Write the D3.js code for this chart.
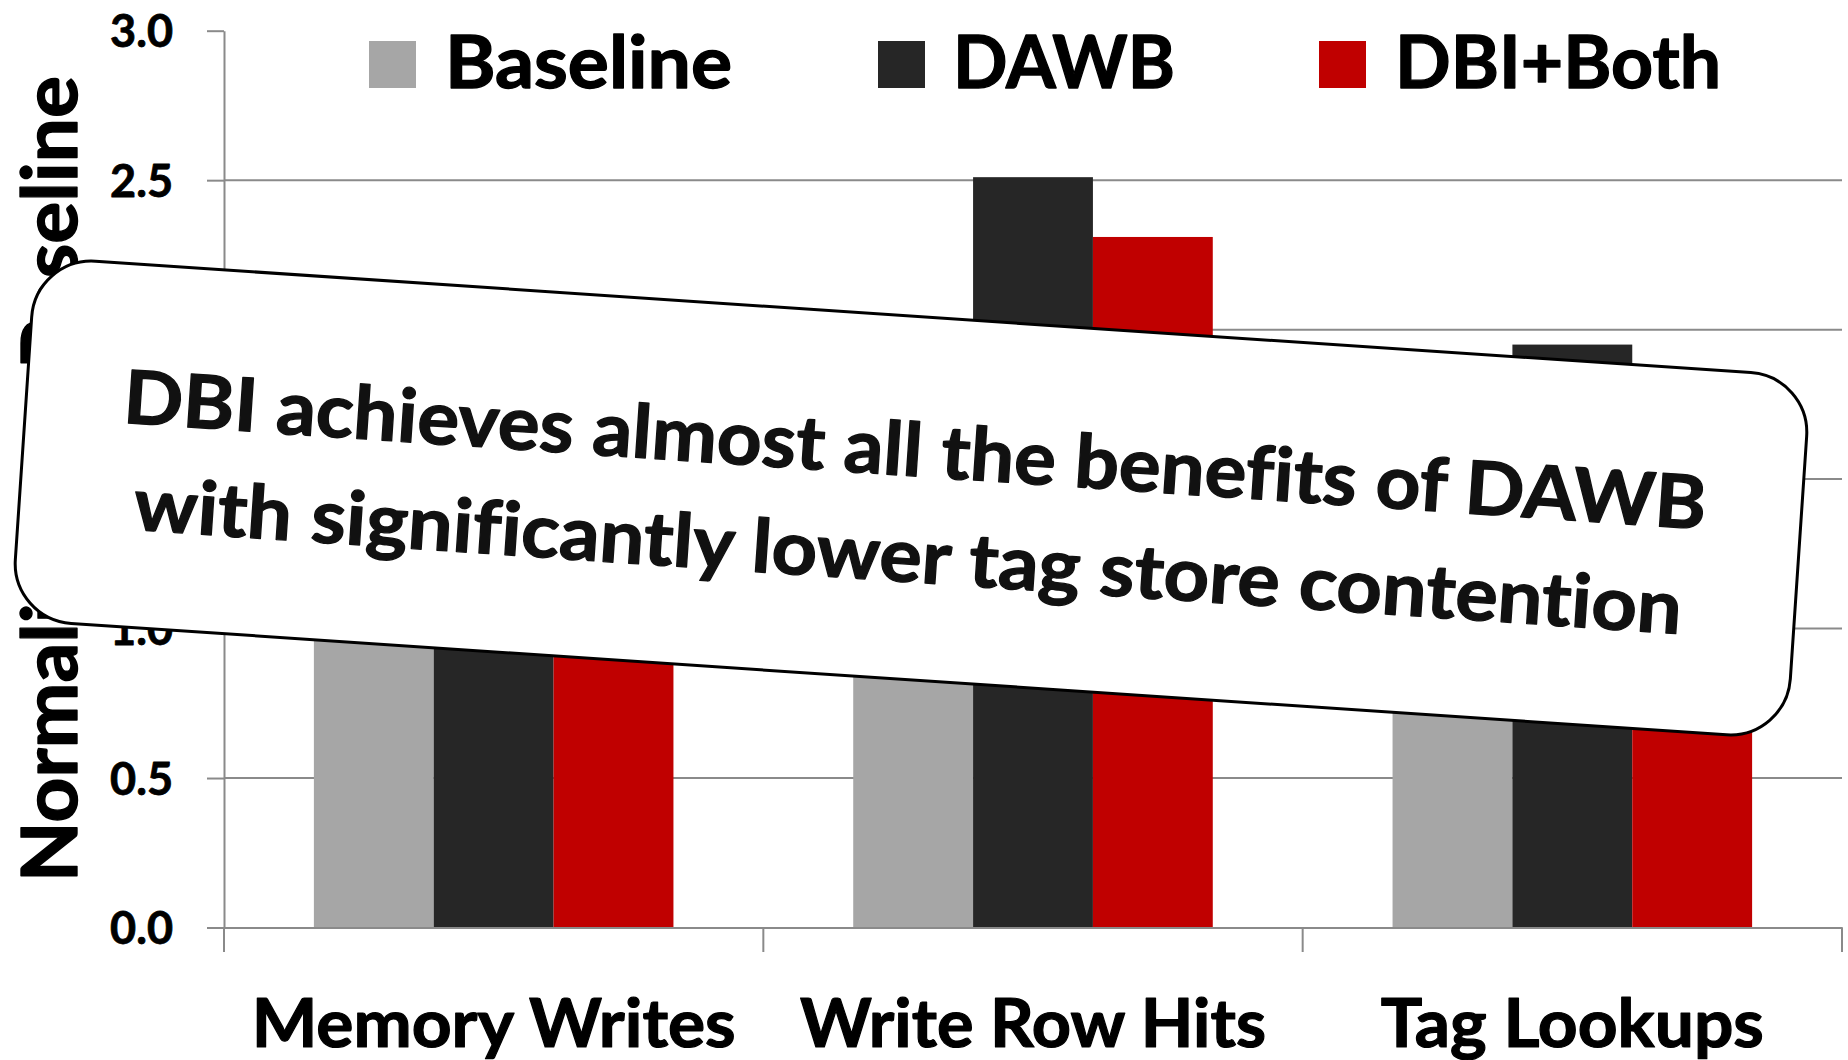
<!DOCTYPE html>
<html>
<head>
<meta charset="utf-8">
<script src="https://cdn.jsdelivr.net/npm/d3@7"></script>
<style>
  html, body { margin: 0; padding: 0; background: #fff; }
  svg { display: block; font-family: Lato, "Open Sans", "DejaVu Sans", sans-serif; font-weight: 700; }
  svg text { font-variant-ligatures: none; font-feature-settings: "liga" 0, "clig" 0; }
</style>
</head>
<body>
<svg id="chart" width="1848" height="1060"></svg>
<script>
// ---- data ----
const categories = ["Memory Writes", "Write Row Hits", "Tag Lookups"];
const seriesNames = ["Baseline", "DAWB", "DBI+Both"];
const seriesColors = ["#a6a6a6", "#262626", "#c00000"];
const baselineValues = [1.0, 1.0, 1.0];
const dawbValues = [0.98, 2.51, 1.95];
const dbiBothValues = [0.97, 2.31, 1.04];
const yTicks = [0, 0.5, 1.0, 1.5, 2.0, 2.5, 3.0];
const yTitle = "Normalized to Baseline";
const calloutLines = [
  "DBI achieves almost all the benefits of DAWB",
  "with significantly lower tag store contention"
];

// ---- layout ----
const plot = { left: 224, right: 1842, top: 30.7, bottom: 927.5 };
const gridColor = "#8a8a8a";
const svg = d3.select("#chart");

const x0 = d3.scaleBand().domain(categories)
  .range([plot.left, plot.right]).paddingInner(1 / 3).paddingOuter(1 / 6);
const x1 = d3.scaleBand().domain(seriesNames).range([0, x0.bandwidth()]);
const y = d3.scaleLinear().domain([0, 3]).range([plot.bottom, plot.top]);
const color = d3.scaleOrdinal().domain(seriesNames).range(seriesColors);

// heavier text: bold face plus a thin outline of the same colour
function heavy(sel, fill, w) {
  sel.attr("fill", fill).attr("stroke", fill).attr("stroke-width", w)
    .attr("stroke-linejoin", "round").attr("paint-order", "stroke");
}

// horizontal gridlines (none on the top tick)
svg.append("g")
  .selectAll("line")
  .data(yTicks.filter(v => v > 0 && v < 3))
  .join("line")
  .attr("x1", plot.left).attr("x2", plot.right)
  .attr("y1", d => y(d)).attr("y2", d => y(d))
  .attr("stroke", gridColor).attr("stroke-width", 2);

// grouped bars
const seriesValues = [baselineValues, dawbValues, dbiBothValues];
const rows = categories.map((c, i) => ({
  category: c,
  values: seriesNames.map((s, j) => ({ series: s, value: seriesValues[j][i] }))
}));

svg.append("g")
  .selectAll("g")
  .data(rows)
  .join("g")
  .attr("transform", d => `translate(${x0(d.category)},0)`)
  .selectAll("rect")
  .data(d => d.values)
  .join("rect")
  .attr("x", d => x1(d.series))
  .attr("width", x1.bandwidth())
  .attr("y", d => y(d.value))
  .attr("height", d => y(0) - y(d.value))
  .attr("fill", d => color(d.series));

// y axis
const yAxisG = svg.append("g")
  .attr("transform", `translate(${plot.left},0)`)
  .call(d3.axisLeft(y).tickValues(yTicks).tickFormat(d3.format(".1f"))
    .tickSize(17).tickSizeOuter(0).tickPadding(34));
yAxisG.select(".domain").attr("stroke", gridColor).attr("stroke-width", 2);
yAxisG.selectAll(".tick line").attr("stroke", gridColor).attr("stroke-width", 2);
yAxisG.selectAll(".tick text")
  .attr("font-size", 45).attr("font-weight", 700)
  .attr("font-family", "Lato, 'Open Sans', sans-serif")
  .attr("dy", "0.36em")
  .call(heavy, "#000", 0.8);

// x axis with category labels
const xAxisG = svg.append("g")
  .attr("transform", `translate(0,${plot.bottom})`)
  .call(d3.axisBottom(x0).tickSize(0).tickSizeOuter(0).tickPadding(0));
xAxisG.select(".domain").attr("stroke", gridColor).attr("stroke-width", 2);
const xLabelWidths = { "Memory Writes": 484, "Write Row Hits": 466, "Tag Lookups": 383 };
xAxisG.selectAll(".tick text")
  .attr("font-size", 67).attr("font-weight", 700)
  .attr("font-family", "Lato, 'Open Sans', sans-serif")
  .attr("y", 119.5).attr("dy", 0)
  .attr("textLength", d => xLabelWidths[d])
  .attr("lengthAdjust", "spacingAndGlyphs")
  .call(heavy, "#000", 1.2);

// category boundary ticks below the axis
const boundaries = categories.map(c => x0(c) + x0.bandwidth() / 2 - x0.step() / 2);
boundaries.push(boundaries[boundaries.length - 1] + x0.step());
svg.append("g")
  .selectAll("line")
  .data(boundaries)
  .join("line")
  .attr("x1", d => d).attr("x2", d => d)
  .attr("y1", plot.bottom).attr("y2", plot.bottom + 24.5)
  .attr("stroke", gridColor).attr("stroke-width", 2);

// y axis title
svg.append("text")
  .attr("transform", "translate(77,479) rotate(-90)")
  .attr("text-anchor", "middle")
  .attr("font-size", 77).attr("font-weight", 700)
  .attr("textLength", 806).attr("lengthAdjust", "spacingAndGlyphs")
  .call(heavy, "#000", 1.4)
  .text(yTitle);

// legend
const legendSwatchX = [369, 878, 1319];
const legendTextX = [445, 953, 1395];
const legendTextW = [287, 222, 326];
const legend = svg.append("g");
legend.selectAll("rect")
  .data(seriesNames)
  .join("rect")
  .attr("x", (d, i) => legendSwatchX[i]).attr("y", 41)
  .attr("width", 47).attr("height", 47)
  .attr("fill", d => color(d));
legend.selectAll("text")
  .data(seriesNames)
  .join("text")
  .attr("x", (d, i) => legendTextX[i]).attr("y", 88)
  .attr("font-size", 72).attr("font-weight", 700)
  .attr("textLength", (d, i) => legendTextW[i])
  .attr("lengthAdjust", "spacingAndGlyphs")
  .call(heavy, "#000", 1.3)
  .text(d => d);

// tilted callout box laid over the chart
const callout = svg.append("g")
  .attr("transform", "translate(911,498) rotate(3.85)");
callout.append("rect")
  .attr("x", -889.5).attr("y", -181.5)
  .attr("width", 1779).attr("height", 363)
  .attr("rx", 60).attr("ry", 60)
  .attr("fill", "#fff").attr("stroke", "#000").attr("stroke-width", 3);
const calloutBaselines = [-22, 84];
const calloutWidths = [1586, 1551];
callout.selectAll("text")
  .data(calloutLines)
  .join("text")
  .attr("x", 1)
  .attr("y", (d, i) => calloutBaselines[i])
  .attr("text-anchor", "middle")
  .attr("font-size", 74).attr("font-weight", 700)
  .attr("textLength", (d, i) => calloutWidths[i])
  .attr("lengthAdjust", "spacingAndGlyphs")
  .call(heavy, "#111", 1.3)
  .text(d => d);
</script>
</body>
</html>
